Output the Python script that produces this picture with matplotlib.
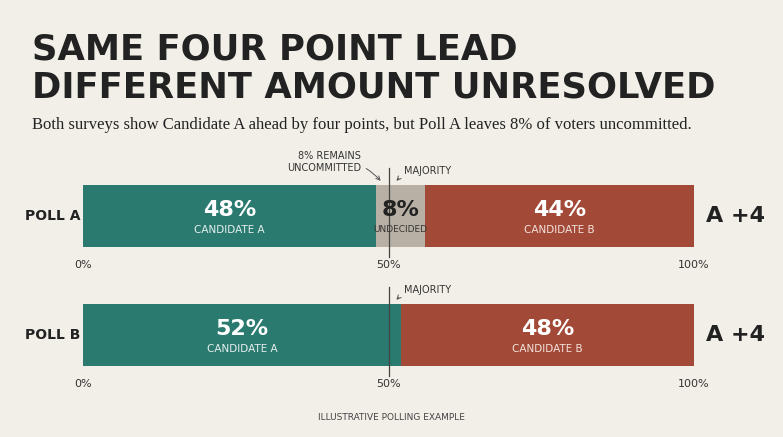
import matplotlib.pyplot as plt

polls = ["POLL A", "POLL B"]
cand_a = [48, 52]
undecided = [8, 0]
cand_b = [44, 48]
leads = ["A +4", "A +4"]

bg = "#f2efe8"
teal = "#2b7a70"
grey = "#b8b0a4"
red = "#a24a37"
ink = "#222222"

W, H = 783, 437
fig = plt.figure(figsize=(W / 100, H / 100), dpi=100, facecolor=bg)
ax = fig.add_axes([83 / W, 0, 611 / W, 1])
ax.set_xlim(0, 100)
ax.set_ylim(H, 0)
ax.axis("off")

fig.text(32 / W, 1 - 50 / H, "SAME FOUR POINT LEAD", fontsize=25.5, fontweight="bold", color=ink, va="center")
fig.text(32 / W, 1 - 88 / H, "DIFFERENT AMOUNT UNRESOLVED", fontsize=25.5, fontweight="bold", color=ink, va="center")
fig.text(32 / W, 1 - 125 / H,
         "Both surveys show Candidate A ahead by four points, but Poll A leaves 8% of voters uncommitted.",
         fontsize=12, family="Liberation Serif", color=ink, va="center")

ys = [216, 335]
for i, y in enumerate(ys):
    a, u, b = cand_a[i], undecided[i], cand_b[i]
    ax.barh(y, a, height=62, left=0, color=teal)
    if u:
        ax.barh(y, u, height=62, left=a, color=grey)
    ax.barh(y, b, height=62, left=a + u, color=red)
    ax.text(a / 2, y - 6, f"{a}%", ha="center", va="center", color="white", fontsize=16, fontweight="bold")
    ax.text(a / 2, y + 14, "CANDIDATE A", ha="center", va="center", color="#e6f0ee", fontsize=7.5)
    if u:
        ax.text(a + u / 2, y - 6, f"{u}%", ha="center", va="center", color=ink, fontsize=16, fontweight="bold")
        ax.text(a + u / 2, y + 14, "UNDECIDED", ha="center", va="center", color="#333333", fontsize=6.5)
    ax.text(a + u + b / 2, y - 6, f"{b}%", ha="center", va="center", color="white", fontsize=16, fontweight="bold")
    ax.text(a + u + b / 2, y + 14, "CANDIDATE B", ha="center", va="center", color="#f3e2dd", fontsize=7.5)
    ax.plot([50, 50], [y - 48, y + 41], color="#444444", lw=0.9)
    ax.text(-9.5, y, polls[i], ha="left", va="center", fontsize=10, fontweight="bold", color=ink)
    ax.text(102, y, leads[i], ha="left", va="center", fontsize=16, fontweight="bold", color=ink)
    for xv, lab in [(0, "0%"), (50, "50%"), (100, "100%")]:
        ax.text(xv, y + 49, lab, ha="center", va="center", fontsize=8, color="#333333")
    ax.annotate("MAJORITY", xy=(51, y - 33), xytext=(52.5, y - 45), fontsize=7, color="#333333",
                va="center", ha="left",
                arrowprops=dict(arrowstyle="->", color="#555555", lw=0.7, connectionstyle="arc3,rad=0.3"))

ax.annotate("8% REMAINS\nUNCOMMITTED", xy=(49, 183), xytext=(45.5, 162), fontsize=7, color="#333333",
            ha="right", va="center", linespacing=1.2,
            arrowprops=dict(arrowstyle="->", color="#555555", lw=0.7, connectionstyle="arc3,rad=-0.3"))

fig.text(0.5, 1 - 418 / H, "ILLUSTRATIVE POLLING EXAMPLE", ha="center", va="center", fontsize=6.5, color="#444444")

fig.savefig("out.png", dpi=100, facecolor=bg)
